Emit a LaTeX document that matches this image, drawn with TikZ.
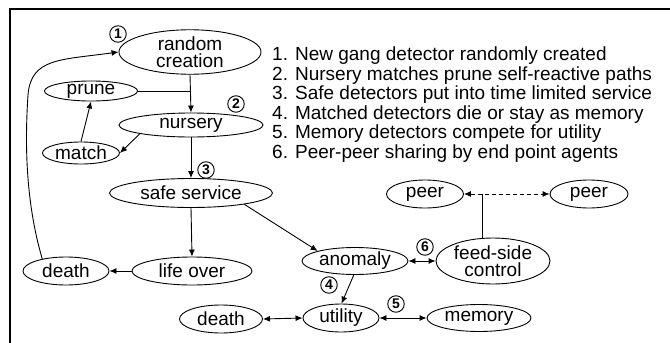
\documentclass[tikz,border=0pt]{standalone}
\usepackage{fontspec}
\setmainfont{Liberation Sans}
\usetikzlibrary{shapes.geometric,arrows.meta,calc}
\begin{document}
\begin{tikzpicture}[x=1pt,y=-1pt,
  ell/.style={ellipse, draw, line width=0.9pt, inner sep=0pt, align=center,
    font=\fontsize{19}{17.5}\selectfont},
  num/.style={circle, draw, line width=0.9pt, inner sep=0pt, minimum size=16.5pt,
    font=\fontsize{14}{14}\selectfont\bfseries},
  arr/.style={-{Latex[length=7pt,width=6pt]}, line width=0.9pt},
  darr/.style={{Latex[length=7pt,width=6pt]}-{Latex[length=7pt,width=6pt]}, line width=0.9pt}]
\useasboundingbox (0,0) rectangle (670,343);
\draw[line width=2.2pt] (10,343) -- (10,9) -- (670,9);

% nodes
\node[ell, minimum width=142pt, minimum height=39pt] (random) at (190,52) {random\\creation};
\node[ell, minimum width=93pt, minimum height=20pt] (prune) at (91,91) {prune};
\node[ell, minimum width=144pt, minimum height=24pt] (nursery) at (191,125) {nursery};
\node[ell, minimum width=77pt, minimum height=22pt] (match) at (81,153) {match};
\node[ell, minimum width=163pt, minimum height=29pt] (safe) at (191,193) {safe service};
\node[ell, minimum width=120pt, minimum height=28pt] (life) at (192,271) {life over};
\node[ell, minimum width=86pt, minimum height=28pt] (deathA) at (66,271) {death};
\node[ell, minimum width=106pt, minimum height=27pt] (anomaly) at (355,261) {anomaly};
\node[ell, minimum width=114pt, minimum height=46pt] (feed) at (493,261) {feed-side\\control};
\node[ell, minimum width=77pt, minimum height=28pt] (peerA) at (425,194) {peer};
\node[ell, minimum width=78pt, minimum height=28pt] (peerB) at (589,194) {peer};
\node[ell, minimum width=76pt, minimum height=28pt] (utility) at (341,318) {utility};
\node[ell, minimum width=83pt, minimum height=28pt] (deathB) at (221,319) {death};
\node[ell, minimum width=104pt, minimum height=27pt] (memory) at (479,318) {memory};

% step numbers
\node[num] (n1) at (118,34) {1};
\node[num] (n2) at (236,104) {2};
\node[num] (n3) at (206,170) {3};
\node[num] (n4) at (329,285) {4};
\node[num] (n5) at (396,304) {5};
\node[num] (n6) at (425,247) {6};

% list
\node[anchor=north west, align=left, inner sep=0pt,
  font=\fontsize{19}{19.5}\selectfont] (list) at (272,47) {%
1. New gang detector randomly created\\
2. Nursery matches prune self-reactive paths\\
3. Safe detectors put into time limited service\\
4. Matched detectors die or stay as memory\\
5. Memory detectors compete for utility\\
6. Peer-peer sharing by end point agents};

% connectors
\draw[arr] (random.south) -- (nursery.north);
\draw[line width=0.9pt] (prune.east) -- (prune.east -| random.south);
\draw[arr] (nursery.south west) -- (match.east);
\draw[arr] (match.north) -- (prune.south);
\draw[arr] (nursery.south) -- (safe.north);
\draw[arr] (safe.south) -- (life.north);
\draw[arr] (life.west) -- (deathA.east);
\draw[arr] (deathA.153) .. controls (25,200) and (25,140) .. (28,95)
  .. controls (31,58) and (60,60) .. (random.west);
\draw[arr] (safe.-12) -- (anomaly.165);
\draw[darr] (anomaly.east) -- (feed.west);
\draw[arr] (anomaly.-95) -- (utility.88);
\draw[darr] (deathB.east) -- (utility.west);
\draw[darr] (utility.east) -- (memory.west);
\draw[darr, dashed, dash pattern=on 4pt off 3pt] (peerA.east) -- (peerB.west);
\draw[line width=0.9pt] (feed.115) -- (feed.115 |- peerA.east);
\end{tikzpicture}
\end{document}
